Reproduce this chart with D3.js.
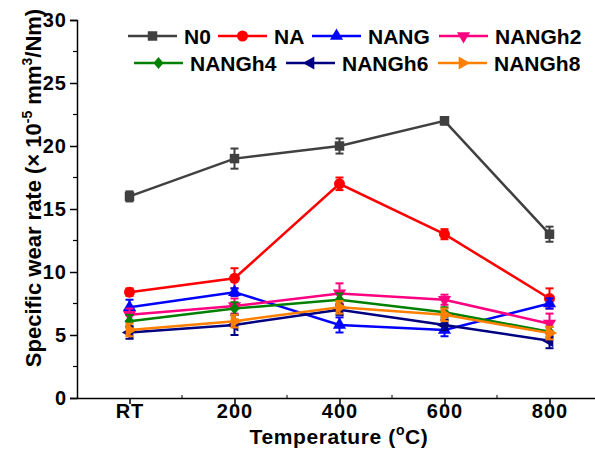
<!DOCTYPE HTML>
<html>
<head>
    <title>Specific wear rate</title>
    <script type="text/javascript" src="https://cdn.jsdelivr.net/npm/d3@7/dist/d3.min.js"></script>
    <style>
        body { margin: 0; background: white; }
        text { font-family: Arial, "Liberation Sans", sans-serif; font-weight: bold; }
    </style>
</head>
<body>
    <div id="panel"></div>

    <script>
        // data
        var categories = ["RT", "200", "400", "600", "800"];
        var series_names = ["N0", "NA", "NANG", "NANGh2", "NANGh4", "NANGh6", "NANGh8"];
        var n0     = [16.0, 19.0, 20.0, 22.0, 13.0];
        var na     = [8.4, 9.5, 17.0, 13.0, 7.9];
        var nang   = [7.2, 8.4, 5.8, 5.4, 7.5];
        var nangh2 = [6.6, 7.3, 8.3, 7.8, 5.9];
        var nangh4 = [6.1, 7.1, 7.8, 6.8, 5.25];
        var nangh6 = [5.2, 5.8, 7.0, 5.8, 4.55];
        var nangh8 = [5.4, 6.1, 7.2, 6.6, 5.15];
        var n0_err     = [0.4, 0.8, 0.6, 0.3, 0.6];
        var na_err     = [0.3, 0.8, 0.5, 0.4, 0.8];
        var nang_err   = [0.6, 0.3, 0.6, 0.5, 0.4];
        var nangh2_err = [0.5, 0.6, 0.8, 0.4, 0.8];
        var nangh4_err = [0.5, 0.5, 0.5, 0.4, 0.4];
        var nangh6_err = [0.5, 0.8, 0.4, 0.4, 0.6];
        var nangh8_err = [0.5, 0.5, 0.5, 0.5, 0.5];
        var y_ticks = [0, 5, 10, 15, 20, 25, 30];
    </script>

    <script>
        var width = 595, height = 459;
        var left = 77, top_y = 20, bottom = 398;

        var series = [
            {name: series_names[0], values: n0,     err: n0_err,     color: "#404040", shape: "square"},
            {name: series_names[1], values: na,     err: na_err,     color: "#ff0000", shape: "circle"},
            {name: series_names[2], values: nang,   err: nang_err,   color: "#0000ff", shape: "up"},
            {name: series_names[3], values: nangh2, err: nangh2_err, color: "#ff0080", shape: "down"},
            {name: series_names[4], values: nangh4, err: nangh4_err, color: "#008000", shape: "diamond"},
            {name: series_names[5], values: nangh6, err: nangh6_err, color: "#000080", shape: "left"},
            {name: series_names[6], values: nangh8, err: nangh8_err, color: "#ff8000", shape: "right"}
        ];

        var svg = d3.select("#panel").append("svg")
                    .attr("width", width)
                    .attr("height", height);

        // x is a linear index scale so the half-step margins match the original
        var x = d3.scaleLinear().domain([-0.5, 4.5]).range([left, left + 525]);
        var y = d3.scaleLinear().domain([0, 30]).range([bottom, top_y]);

        // marker path for a given shape, centred at 0,0
        function marker_path(shape)
        {
            if (shape == "square")  return d3.symbol().type(d3.symbolSquare).size(90)();
            if (shape == "circle")  return d3.symbol().type(d3.symbolCircle).size(95)();
            if (shape == "diamond") return "M0,-6L5,0L0,6L-5,0Z";
            return d3.symbol().type(d3.symbolTriangle).size(75)();
        }
        function marker_rotate(shape)
        {
            if (shape == "down")  return 180;
            if (shape == "left")  return -90;
            if (shape == "right") return 90;
            return 0;
        }

        // axes
        var y_axis = d3.axisLeft(y).tickValues(y_ticks).tickSize(7).tickPadding(3);
        var gy = svg.append("g").attr("transform", "translate(" + left + ",0)").call(y_axis);
        gy.select(".domain").attr("stroke-width", 1.5);
        gy.selectAll(".tick line").attr("stroke-width", 1.5);
        gy.selectAll(".tick text").attr("font-size", 20).attr("letter-spacing", 1).attr("fill", "black");
        // minor y ticks
        var y_minor = d3.range(2.5, 30, 5);
        gy.selectAll(".minor").data(y_minor).enter().append("line")
            .attr("x1", -4).attr("x2", 0)
            .attr("y1", function(d){ return y(d); })
            .attr("y2", function(d){ return y(d); })
            .attr("stroke", "black").attr("stroke-width", 1.2);

        var x_axis = d3.axisBottom(x).tickValues(d3.range(categories.length))
                        .tickFormat(function(i){ return categories[i]; })
                        .tickSize(6).tickPadding(0).tickSizeOuter(0);
        var gx = svg.append("g").attr("transform", "translate(0," + bottom + ")").call(x_axis);
        gx.select(".domain").attr("stroke-width", 1.5);
        gx.selectAll(".tick line").attr("stroke-width", 1.5);
        gx.selectAll(".tick text").attr("font-size", 20).attr("letter-spacing", 1).attr("fill", "black");
        var x_minor = d3.range(0.5, 4.5, 1);
        gx.selectAll(".minor").data(x_minor).enter().append("line")
            .attr("x1", function(d){ return x(d); })
            .attr("x2", function(d){ return x(d); })
            .attr("y1", -3).attr("y2", 0)
            .attr("stroke", "black").attr("stroke-width", 1);

        // axis titles
        var ytitle = svg.append("text")
            .attr("transform", "translate(41,188) rotate(-90)")
            .attr("text-anchor", "middle")
            .attr("font-size", 22);
        ytitle.append("tspan").text("Specific wear rate (\u00d7 10");
        ytitle.append("tspan").attr("font-size", 14).attr("dy", -9).text("-5");
        ytitle.append("tspan").attr("dy", 9).text(" mm");
        ytitle.append("tspan").attr("font-size", 14).attr("dy", -9).text("3");
        ytitle.append("tspan").attr("dy", 9).text("/Nm)");

        var xtitle = svg.append("text")
            .attr("x", 339).attr("y", 444)
            .attr("text-anchor", "middle")
            .attr("letter-spacing", 0.6)
            .attr("font-size", 21);
        xtitle.append("tspan").text("Temperature (");
        xtitle.append("tspan").attr("font-size", 14).attr("dy", -9).text("o");
        xtitle.append("tspan").attr("dy", 9).text("C)");

        // series
        var line = d3.line()
                     .x(function(d, i){ return x(i); })
                     .y(function(d){ return y(d); });

        series.forEach(function(s)
        {
            var g = svg.append("g");
            g.append("path")
                .attr("d", line(s.values))
                .attr("fill", "none")
                .attr("stroke", s.color)
                .attr("stroke-width", 2.5);
            // error bars
            s.values.forEach(function(v, i)
            {
                var e = s.err[i];
                var cx = x(i);
                g.append("line").attr("x1", cx).attr("x2", cx)
                    .attr("y1", y(v - e)).attr("y2", y(v + e))
                    .attr("stroke", s.color).attr("stroke-width", 2);
                [v - e, v + e].forEach(function(c)
                {
                    g.append("line").attr("x1", cx - 4).attr("x2", cx + 4)
                        .attr("y1", y(c)).attr("y2", y(c))
                        .attr("stroke", s.color).attr("stroke-width", 2);
                });
            });
            g.selectAll(".marker").data(s.values).enter().append("path")
                .attr("d", marker_path(s.shape))
                .attr("transform", function(d, i){
                    return "translate(" + x(i) + "," + y(d) + ") rotate(" + marker_rotate(s.shape) + ")";
                })
                .attr("fill", s.color);
        });

        // legend
        var legend_pos = [
            [128, 36], [218, 36], [312, 36], [439, 36],
            [134, 63], [286, 63], [438, 63]
        ];
        series.forEach(function(s, i)
        {
            var p = legend_pos[i];
            var g = svg.append("g").attr("transform", "translate(" + p[0] + "," + p[1] + ")");
            g.append("line").attr("x1", 0).attr("x2", 49).attr("y1", 0).attr("y2", 0)
                .attr("stroke", s.color).attr("stroke-width", 2.5);
            g.append("path").attr("d", marker_path(s.shape))
                .attr("transform", "translate(24.5,0) rotate(" + marker_rotate(s.shape) + ")")
                .attr("fill", s.color);
            g.append("text").attr("x", 56).attr("y", 7.5)
                .attr("font-size", 21).text(s.name);
        });
    </script>
</body>
</html>
